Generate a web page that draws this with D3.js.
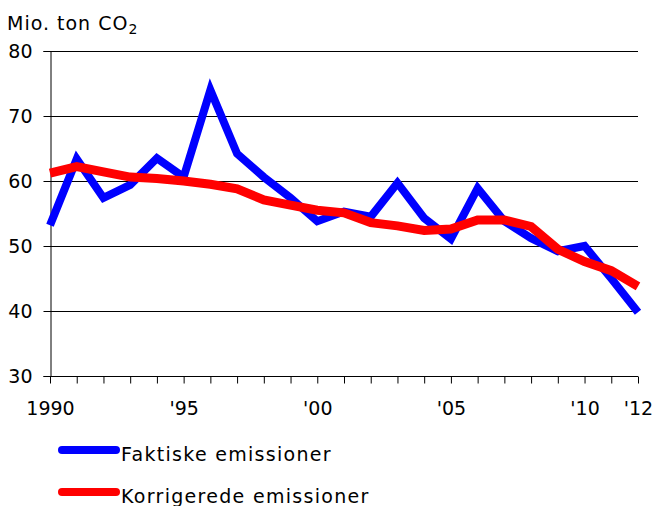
<!DOCTYPE html>
<html><head><meta charset="utf-8">
<script src="https://cdn.jsdelivr.net/npm/d3@7"></script>
<style>body{margin:0;background:#fff}svg{display:block}text{font-family:"DejaVu Sans",Verdana,sans-serif;fill:#000}</style>
</head><body>
<svg id="c" width="656" height="506"></svg>
<script>
const years = d3.range(1990, 2013);
const faktiske = [53.2,63.4,57.4,59.4,63.5,60.6,74.0,64.2,60.6,57.4,53.8,55.3,54.5,59.7,54.3,51.1,58.9,53.8,51.2,49.2,50.0,45.0,39.8];
const korrigerede = [61.2,62.2,61.4,60.6,60.4,60.0,59.5,58.8,57.1,56.3,55.5,55.1,53.6,53.1,52.4,52.6,54.0,54.0,53.0,49.5,47.6,46.2,43.8];
const yTicks = [30,40,50,60,70,80];
const xTickLabels = {1990:"1990",1995:"'95",2000:"'00",2005:"'05",2010:"'10",2012:"'12"};
const seriesNames = ["Faktiske emissioner","Korrigerede emissioner"];
const colors = ["#0000ff","#ff0000"];

const svg = d3.select("#c");
const x = d3.scaleLinear().domain([1990,2012]).range([50,638]);
const y = d3.scaleLinear().domain([30,80]).range([376,51]);

// y axis
const ya = svg.append("g").attr("transform","translate(50.5,0)")
  .call(d3.axisLeft(y).tickValues(yTicks).tickSize(7).tickPadding(11).tickFormat(d3.format("d")));
ya.select(".domain").attr("stroke","#000");
ya.selectAll("line").attr("stroke","#000");
ya.selectAll("text").style("font-size","19px").attr("dy","0.36em");
// gridlines
svg.append("g").selectAll("line").data(yTicks).join("line")
  .attr("x1",50).attr("x2",638).attr("y1",d=>y(d)+0.5).attr("y2",d=>y(d)+0.5)
  .attr("stroke","#000").attr("stroke-width",1);

// x axis
const xa = svg.append("g").attr("transform","translate(0,376.5)")
  .call(d3.axisBottom(x).tickValues(years).tickSize(7).tickPadding(18).tickFormat(d=>xTickLabels[d]||""));
xa.select(".domain").remove();
xa.selectAll("line").attr("stroke","#000");
xa.selectAll("text").style("font-size","19px");

// lines
const line = d3.line().x((d,i)=>x(years[i])).y(d=>y(d));
[faktiske,korrigerede].forEach((s,i)=>{
  svg.append("path").datum(s).attr("d",line).attr("fill","none")
    .attr("stroke",colors[i]).attr("stroke-width",i===0?8:9).attr("stroke-linejoin","miter");
});

// title
svg.append("text").attr("x",7).attr("y",30).style("font-size","19px").style("letter-spacing","1px")
  .html('Mio. ton CO<tspan font-size="14px" dy="4">2</tspan>');

// legend
seriesNames.forEach((n,i)=>{
  const ly = 450 + i*42;
  svg.append("line").attr("x1",62).attr("x2",116).attr("y1",ly).attr("y2",ly)
    .attr("stroke",colors[i]).attr("stroke-width",8).attr("stroke-linecap","round");
  svg.append("text").attr("x",121).attr("y",ly+11).style("font-size","19px")
    .style("letter-spacing","1.3px").text(n);
});
</script>
</body></html>
